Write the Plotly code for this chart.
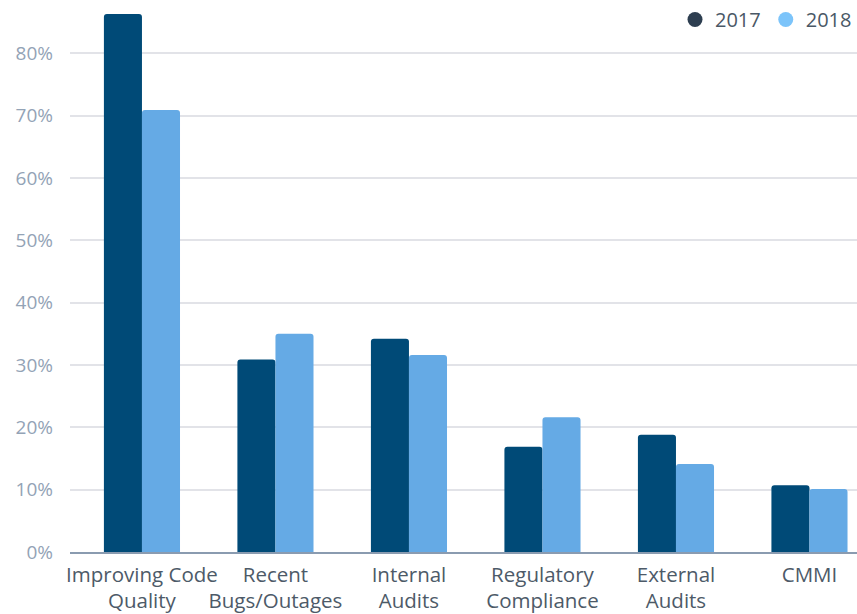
import plotly.graph_objects as go

# Reasons for adopting code review practices, share of respondents
categories = ["Improving Code<br>Quality", "Recent<br>Bugs/Outages", "Internal<br>Audits",
              "Regulatory<br>Compliance", "External<br>Audits", "CMMI"]
values_2017 = [0.863, 0.309, 0.342, 0.169, 0.188, 0.107]
values_2018 = [0.709, 0.350, 0.316, 0.216, 0.141, 0.101]
y_ticks = [0, 0.1, 0.2, 0.3, 0.4, 0.5, 0.6, 0.7, 0.8]

bar_2017 = "#004a77"
bar_2018 = "#65aae5"
legend_2017 = "#2d3e50"
legend_2018 = "#7cc4fa"

fig = go.Figure()
fig.add_trace(go.Bar(x=categories, y=values_2017, name="2017", marker_color=bar_2017,
                     marker_line_width=0, showlegend=False))
fig.add_trace(go.Bar(x=categories, y=values_2018, name="2018", marker_color=bar_2018,
                     marker_line_width=0, showlegend=False))
# legend entries drawn as round markers
fig.add_trace(go.Scatter(x=[None], y=[None], mode="markers", name="2017",
                         marker=dict(color=legend_2017, size=15, symbol="circle")))
fig.add_trace(go.Scatter(x=[None], y=[None], mode="markers", name="2018",
                         marker=dict(color=legend_2018, size=15, symbol="circle")))

fig.update_layout(
    width=857, height=614,
    margin=dict(l=70, r=0, t=10, b=62, autoexpand=False),
    paper_bgcolor="white", plot_bgcolor="white",
    barmode="group", bargap=0.43, bargroupgap=0, barcornerradius=3,
    font=dict(family="Open Sans", color="#4d5a68"),
    legend=dict(orientation="h", x=1.0, y=1.0, xanchor="right", yanchor="top",
                xref="container", yref="container",
                font=dict(size=20, color="#4a5866"), itemwidth=30,
                bgcolor="rgba(0,0,0,0)"),
    xaxis=dict(type="category", range=[-0.539, 5.356], showgrid=False,
               showline=True, linecolor="#8a9bb0", linewidth=2, ticks="",
               tickangle=0, automargin=False, ticklabelstandoff=3,
               tickfont=dict(size=20.5, color="#4d5a68"), fixedrange=True),
    yaxis=dict(range=[0, 0.8695], tickvals=y_ticks, tickformat=".0%",
               showgrid=True, gridcolor="#e2e3e8", gridwidth=1.5, zeroline=False,
               showline=False, ticks="", ticklabelstandoff=16, automargin=False,
               tickfont=dict(size=19, color="#93a3b6")),
)

fig.write_html("out.html")
